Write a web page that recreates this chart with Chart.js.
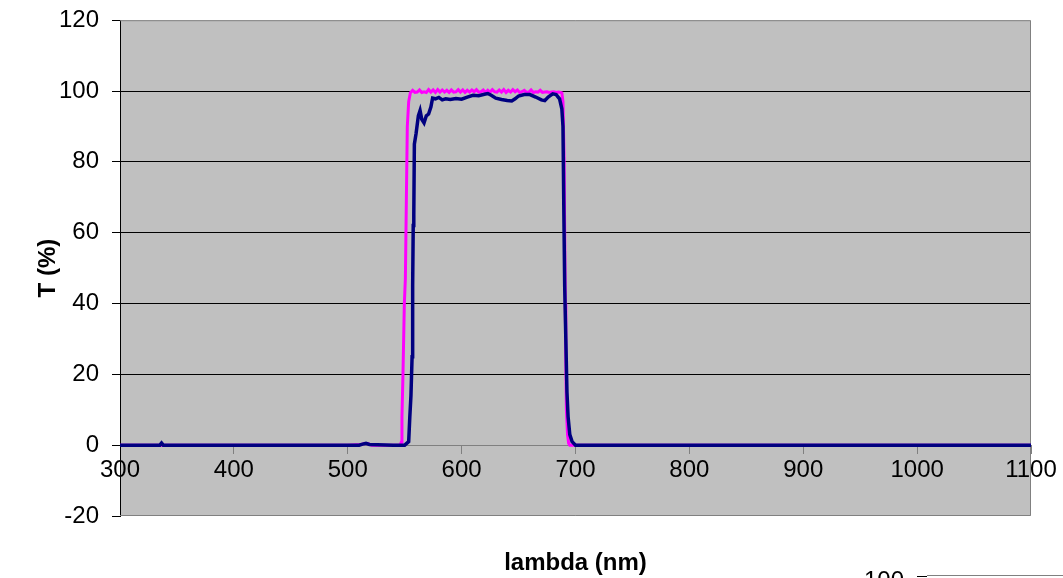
<!DOCTYPE html>
<html>
<head>
<meta charset="utf-8">
<script src="https://cdn.jsdelivr.net/npm/chart.js@4.4.0/dist/chart.umd.min.js"></script>
<style>
  html, body { margin: 0; padding: 0; background: #fff; }
</style>
</head>
<body>
<canvas id="transChart" width="1063" height="578"></canvas>
<script>
// Achsen
const xTicks = [300, 400, 500, 600, 700, 800, 900, 1000, 1100];
const yTicks = [-20, 0, 20, 40, 60, 80, 100, 120];
const xTitle = 'lambda (nm)';
const yTitle = 'T (%)';

// Magenta Kurve (Wellenlaenge nm / Transmission %)
const lambdaPink = [300, 340, 400, 450, 500, 512, 515, 518, 521, 540, 546, 547, 547.6, 548.5, 549.7, 550.6, 551.5, 552.3, 553.5, 555,
  557, 559, 561, 563, 565, 567, 569, 571, 573, 575, 577, 579, 581, 583, 585, 587, 589, 591, 593, 595, 597, 599,
  601, 603, 605, 607, 609, 611, 613, 615, 617, 619, 621, 623, 625, 627, 629, 631, 633, 635, 637, 639,
  641, 643, 645, 647, 649, 651, 653, 655, 657, 659, 661, 663, 665, 667, 669, 671, 673, 675, 677, 679,
  681, 683, 685, 687, 688, 689, 690, 691, 691.5, 692, 693, 694, 695, 700, 800, 900, 1000, 1100];
const tPink = [0, 0, 0, 0, 0, 0.2, 0.5, 0.4, 0, 0, 0, 0.8, 8, 20, 40, 47, 70, 90, 97, 99.5,
  100.2, 99.6, 99.7, 100.3, 99.6, 99.8, 99.6, 100.4, 99.7, 100.3, 99.6, 100.4, 99.7, 100.3, 99.7, 100.2, 99.6, 100.3, 99.7, 99.8, 100.4, 99.7,
  100.3, 99.6, 100.2, 99.7, 100.3, 99.8, 100.4, 99.7, 99.8, 100.3, 99.6, 100.2, 99.7, 100.4, 99.8, 99.7, 100.3, 99.7, 100.4, 99.6,
  100.2, 99.7, 100.4, 99.8, 100.3, 99.6, 99.8, 100.2, 99.6, 99.7, 100.3, 99.6, 99.8, 99.7, 100.2, 99.6, 99.7, 99.8, 99.6, 99.7,
  99.8, 99.6, 99.7, 99.6, 99.5, 97, 80, 40, 25, 10, 3, 0.5, 0, 0, 0, 0, 0, 0];

// Blaue Kurve (Wellenlaenge nm / Transmission %)
const lambdaBlue = [300, 330, 335, 336.5, 338, 400, 450, 500, 510, 513, 516, 519, 540, 550, 553.5, 554.5, 555.5, 556.5, 557, 557.5, 558, 558.5,
  560, 562, 563.5, 565, 567, 569, 571, 573, 574.5, 577, 580, 583, 586, 590, 595, 600, 605, 610, 615, 620, 623, 626,
  630, 635, 640, 644, 647, 650, 655, 660, 665, 670, 673, 676, 680, 683, 686, 688, 689, 689.8, 690.5, 691.5, 692.5,
  693.5, 695, 697, 700, 800, 900, 1000, 1100];
const tBlue = [0, 0, 0, 0.6, 0, 0, 0, 0, 0, 0.3, 0.5, 0.2, 0, 0, 1, 8, 14, 25, 45, 62, 65, 85,
  88, 93, 94.5, 92, 91, 93, 93.5, 95.5, 98, 97.8, 98.2, 97.5, 97.8, 97.6, 97.9, 97.7, 98.3, 98.8, 98.7, 99.1, 99.3, 98.8,
  98.0, 97.6, 97.3, 97.2, 97.8, 98.6, 99.0, 99.0, 98.3, 97.5, 97.3, 98.3, 99.2, 99.0, 97.8, 95, 90, 65, 45, 30, 15,
  8, 3, 1, 0, 0, 0, 0, 0];

function toPoints(xs, ys) {
  return xs.map(function (x, i) { return { x: x, y: ys[i] }; });
}

const fontFamily = '"Liberation Sans", Arial, sans-serif';

// grauer Hintergrund, Rahmen, x-Titel und Rest der naechsten Grafik unten rechts
const plotDeco = {
  id: 'plotDeco',
  beforeDraw: function (chart) {
    const c = chart.ctx;
    const a = chart.chartArea;
    c.save();
    c.fillStyle = '#ffffff';
    c.fillRect(0, 0, chart.width, chart.height);
    c.fillStyle = '#c0c0c0';
    c.fillRect(a.left, a.top, a.right - a.left, a.bottom - a.top);
    c.restore();
  },
  beforeDatasetsDraw: function (chart) {
    const c = chart.ctx;
    const a = chart.chartArea;
    c.save();
    c.strokeStyle = '#808080';
    c.lineWidth = 1;
    c.beginPath();
    c.moveTo(a.left, a.top + 0.5);
    c.lineTo(a.right - 0.5, a.top + 0.5);
    c.lineTo(a.right - 0.5, a.bottom - 0.5);
    c.lineTo(a.left, a.bottom - 0.5);
    c.stroke();
    c.restore();
  },
  afterDraw: function (chart) {
    const c = chart.ctx;
    const a = chart.chartArea;
    c.save();
    c.fillStyle = '#000';
    c.font = 'bold 24px ' + fontFamily;
    c.textAlign = 'center';
    c.textBaseline = 'middle';
    c.fillText(xTitle, (a.left + a.right) / 2, 563);
    // abgeschnittene Achse der Grafik darunter
    c.font = '24px ' + fontFamily;
    c.textAlign = 'right';
    c.textBaseline = 'alphabetic';
    c.fillText('100', 904, 588);
    c.strokeStyle = '#000';
    c.lineWidth = 1;
    c.beginPath();
    c.moveTo(917, 576.5);
    c.lineTo(927, 576.5);
    c.stroke();
    c.strokeStyle = '#808080';
    c.beginPath();
    c.moveTo(927, 575.5);
    c.lineTo(1063, 575.5);
    c.stroke();
    c.restore();
  }
};

const ctx = document.getElementById('transChart').getContext('2d');
new Chart(ctx, {
  type: 'scatter',
  data: {
    datasets: [
      {
        label: 'magenta',
        data: toPoints(lambdaPink, tPink),
        showLine: true,
        borderColor: '#ff00ff',
        backgroundColor: '#ff00ff',
        borderWidth: 3,
        pointRadius: 0,
        tension: 0,
        order: 2,
      },
      {
        label: 'blau',
        data: toPoints(lambdaBlue, tBlue),
        showLine: true,
        borderColor: '#000080',
        backgroundColor: '#000080',
        borderWidth: 3.5,
        pointRadius: 0,
        tension: 0,
        order: 1,
      },
    ],
  },
  options: {
    responsive: false,
    animation: false,
    layout: {
      padding: { left: 0, right: 32, top: 18, bottom: 62 },
    },
    plugins: {
      legend: { display: false },
      tooltip: { enabled: false },
    },
    scales: {
      x: {
        type: 'linear',
        position: { y: 0 },
        min: xTicks[0],
        max: xTicks[xTicks.length - 1],
        afterBuildTicks: function (scale) {
          scale.ticks = xTicks.map(function (v) { return { value: v }; });
        },
        ticks: {
          color: '#000',
          font: { family: fontFamily, size: 24 },
          padding: 3,
          maxRotation: 0,
          autoSkip: false,
          callback: function (v) { return String(v); },
        },
        grid: {
          drawOnChartArea: false,
          drawTicks: true,
          tickLength: 8,
          color: '#808080',
        },
        border: { display: true, color: '#808080', width: 1 },
      },
      y: {
        min: yTicks[0],
        max: yTicks[yTicks.length - 1],
        afterBuildTicks: function (scale) {
          scale.ticks = yTicks.map(function (v) { return { value: v }; });
        },
        afterFit: function (scale) {
          scale.width = 120;
        },
        ticks: {
          color: '#000',
          font: { family: fontFamily, size: 24, lineHeight: 0.6 },
          padding: 13,
          callback: function (v) { return String(v); },
        },
        grid: {
          color: function (c) {
            const v = c.tick ? c.tick.value : 0;
            return (v > 0 && v < 120) ? '#000000' : 'rgba(0,0,0,0)';
          },
          tickColor: '#000',
          tickLength: 8,
          lineWidth: 1,
        },
        border: { display: true, color: '#000', width: 1 },
        title: {
          display: true,
          text: yTitle,
          color: '#000',
          font: { family: fontFamily, size: 24, weight: 'bold' },
          padding: { top: 34, bottom: 0 },
        },
      },
    },
  },
  plugins: [plotDeco],
});
</script>
</body>
</html>
